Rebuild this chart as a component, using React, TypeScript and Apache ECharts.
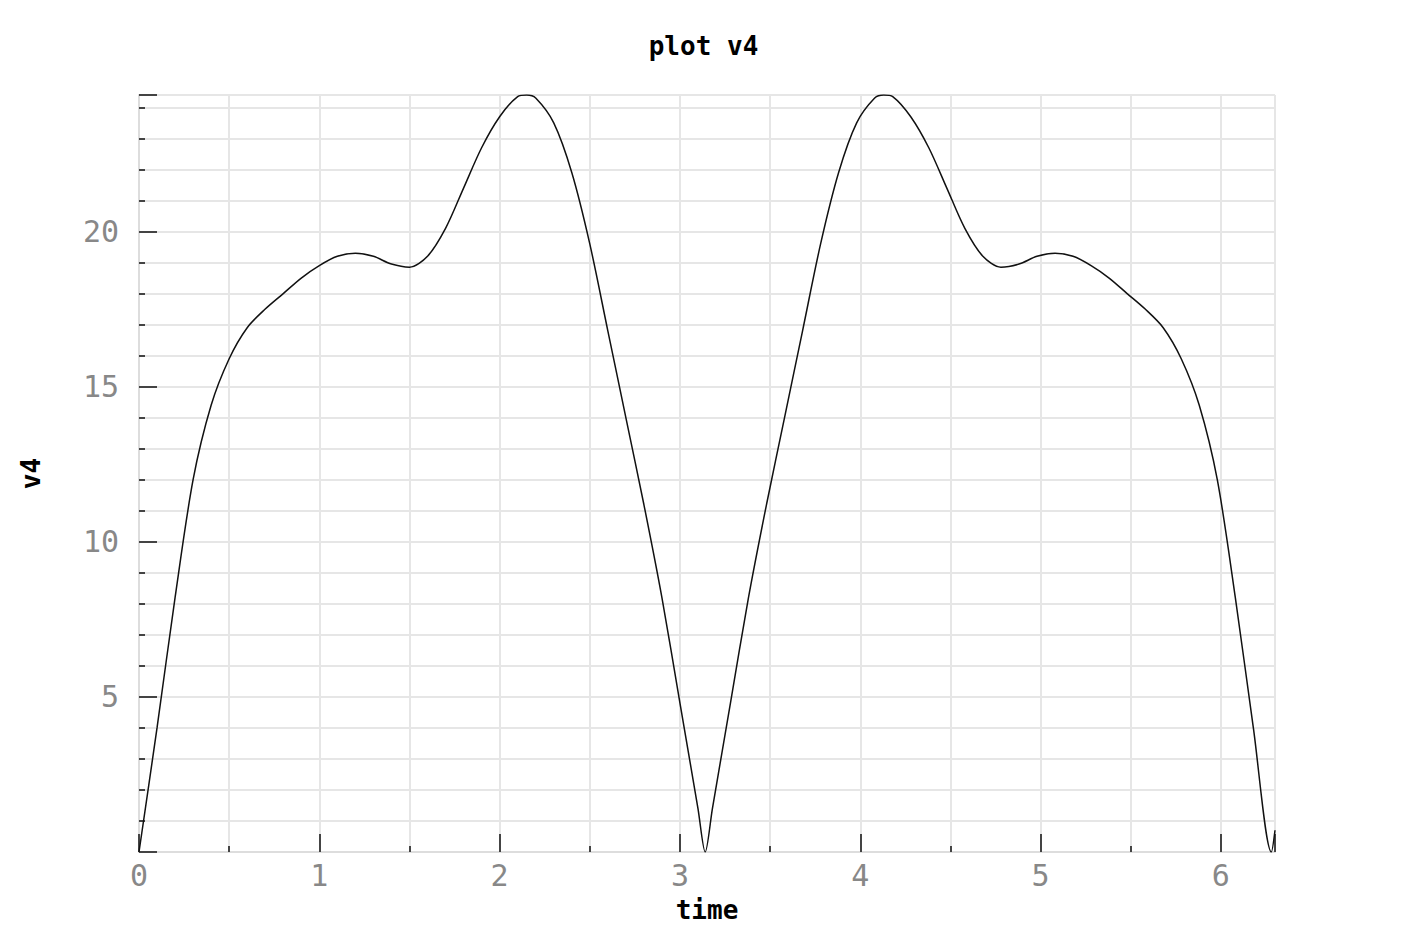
import React, { useEffect, useRef } from "react";
import * as echarts from "echarts";

const timeValues = [0, 0.1, 0.2, 0.3, 0.4, 0.5, 0.6, 0.7, 0.8, 0.9, 1.0, 1.1, 1.2, 1.3, 1.4, 1.5, 1.6, 1.7, 1.8, 1.9, 2.0, 2.1, 2.15, 2.2, 2.3, 2.4, 2.5, 2.6, 2.7, 2.8, 2.9, 3.0, 3.1, 3.14,
  3.18, 3.28, 3.38, 3.48, 3.58, 3.68, 3.78, 3.88, 3.98, 4.08, 4.13, 4.18, 4.28, 4.38, 4.48, 4.58, 4.68, 4.78, 4.88, 4.98, 5.08, 5.18, 5.28, 5.38, 5.48, 5.58, 5.68, 5.78, 5.88, 5.98, 6.08, 6.18, 6.28, 6.3];
const v4Values = [0, 4.0, 8.2, 12.0, 14.4, 15.9, 16.9, 17.5, 18.0, 18.5, 18.9, 19.2, 19.3, 19.2, 18.95, 18.85, 19.2, 20.1, 21.4, 22.7, 23.7, 24.35, 24.4, 24.3, 23.5, 21.9, 19.6, 16.8, 14.0, 11.2, 8.2, 4.8, 1.4, 0,
  1.4, 4.8, 8.2, 11.2, 14.0, 16.8, 19.6, 21.9, 23.5, 24.3, 24.4, 24.35, 23.7, 22.7, 21.4, 20.1, 19.2, 18.85, 18.95, 19.2, 19.3, 19.2, 18.9, 18.5, 18.0, 17.5, 16.9, 15.9, 14.4, 12.0, 8.2, 4.0, 0, 0.7];

const font = "'DejaVu Sans Mono', monospace";

export default function App() {
  const ref = useRef<HTMLDivElement>(null);
  useEffect(() => {
    const chart = echarts.init(ref.current!, undefined, { renderer: "svg" });
    const grid = { lineStyle: { color: "#e6e6e6", width: 2 } };
    chart.setOption({
      animation: false,
      backgroundColor: "#fff",
      title: { text: "plot v4", left: "center", top: 28, textStyle: { fontFamily: font, fontSize: 26, fontWeight: "bold", color: "#000" } },
      grid: { left: 139, right: 132, top: 95, bottom: 96 },
      xAxis: {
        type: "value", min: 0, max: 6.3, interval: 1,
        name: "time", nameLocation: "middle", nameGap: 45,
        nameTextStyle: { fontFamily: font, fontSize: 26, fontWeight: "bold", color: "#000" },
        axisLine: { lineStyle: { color: "#ddd", width: 2 } },
        axisTick: { inside: true, length: 18, lineStyle: { color: "#444", width: 2 } },
        minorTick: { show: true, splitNumber: 2, length: 6, lineStyle: { color: "#444", width: 2 } },
        axisLabel: { fontFamily: font, fontSize: 30, color: "#888", margin: 8, showMaxLabel: false },
        splitLine: grid,
        minorSplitLine: { show: true, ...grid },
      },
      yAxis: {
        type: "value", min: 0, max: 24.4, interval: 5,
        name: "v4", nameLocation: "middle", nameGap: 95, nameRotate: 90,
        nameTextStyle: { fontFamily: font, fontSize: 26, fontWeight: "bold", color: "#000" },
        axisLine: { show: true, lineStyle: { color: "#ddd", width: 2 } },
        axisTick: { inside: true, length: 18, lineStyle: { color: "#444", width: 2 } },
        minorTick: { show: true, splitNumber: 5, length: 6, lineStyle: { color: "#444", width: 2 } },
        axisLabel: { fontFamily: font, fontSize: 30, color: "#888", margin: 20, showMaxLabel: false, formatter: (v: number) => (v > 0 ? String(v) : "") },
        splitLine: grid,
        minorSplitLine: { show: true, ...grid },
      },
      series: [{
        type: "line", smooth: 0.3, symbol: "none",
        data: timeValues.map((t, i) => [t, v4Values[i]]),
        lineStyle: { color: "#111", width: 1.5 },
      }],
    });
    return () => chart.dispose();
  }, []);
  return <div ref={ref} style={{ position: "absolute", left: 0, top: 0, width: 1407, height: 948 }} />;
}
